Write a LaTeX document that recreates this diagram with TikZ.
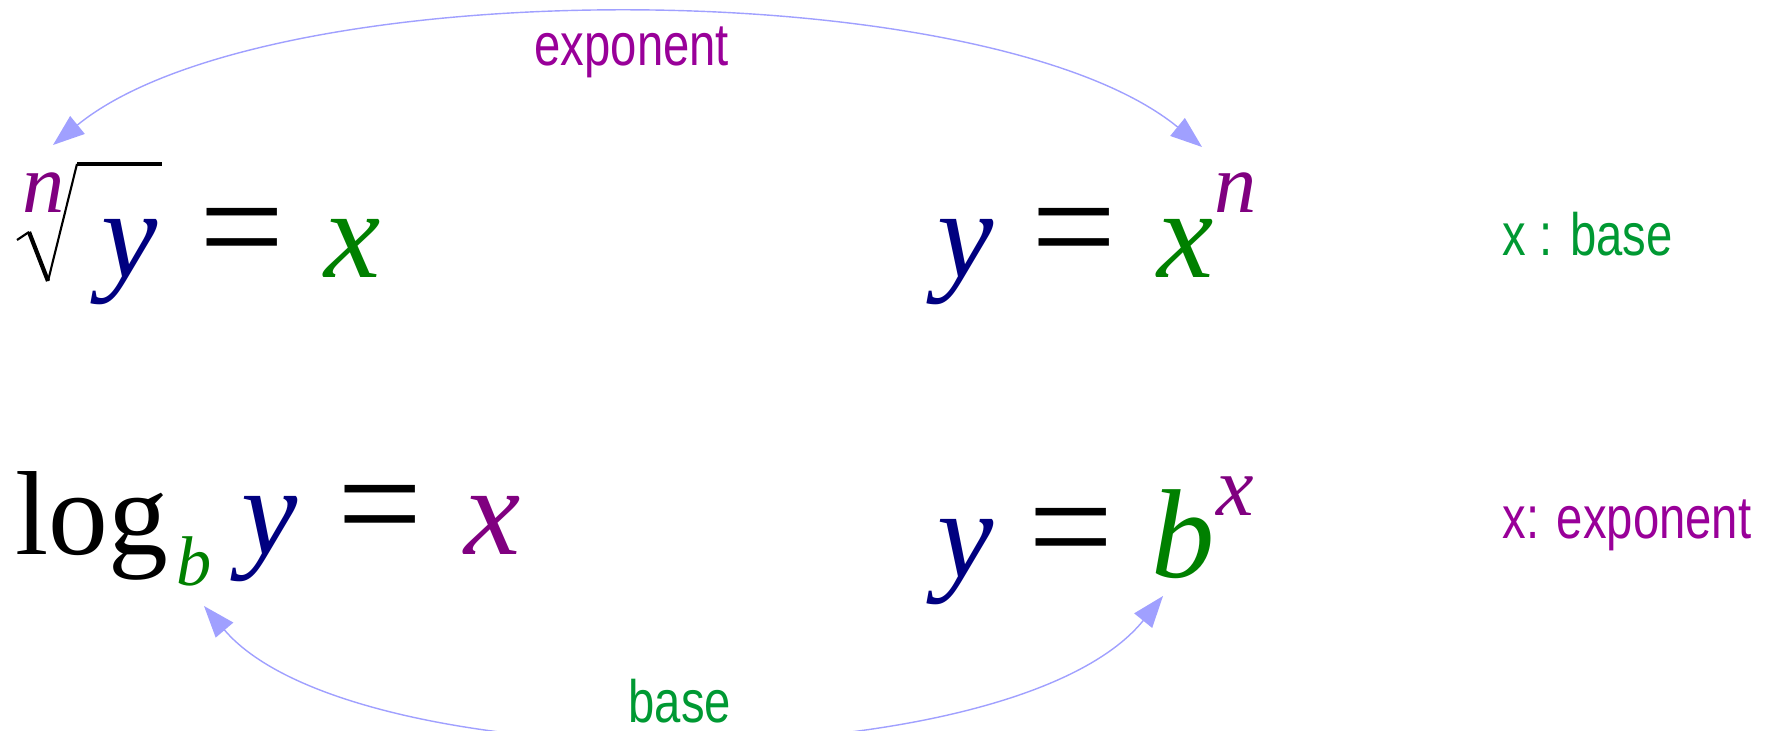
\documentclass[tikz,border=0pt]{standalone}
\usepackage{fontspec}
\setmainfont{Liberation Serif}
\newfontfamily\lblfont[FakeStretch=0.79]{Liberation Sans}
\usetikzlibrary{arrows.meta}
\definecolor{eqblue}{RGB}{0,0,128}
\definecolor{eqgreen}{RGB}{0,128,0}
\definecolor{eqpurple}{RGB}{128,0,128}
\definecolor{lblgreen}{RGB}{0,153,51}
\definecolor{lblpurple}{RGB}{153,0,153}
\definecolor{linkblue}{RGB}{160,160,255}

\begin{document}
\begin{tikzpicture}[x=0.01cm, y=-0.01cm,
	every node/.style={inner sep=0pt, anchor=base west},
	big/.style={font=\fontsize{34}{34}\selectfont},
	eqsign/.style={font=\fontsize{43}{43}\selectfont},
	bigit/.style={font=\fontsize{36}{36}\selectfont\itshape},
	supit/.style={font=\fontsize{24}{24}\selectfont\itshape},
	subit/.style={font=\fontsize{20}{20}\selectfont\itshape},
	lbl/.style={font={\fontsize{17}{17}\lblfont}},
	link/.style={linkblue, line width=0.4pt, {Triangle[length=9pt,width=6.5pt]}-{Triangle[length=9pt,width=6.5pt]}}]
	\useasboundingbox (0,0) rectangle (1774,731);
	\draw[line width=0.6pt] (17,240) -- (29,232);
	\draw[line width=1.2pt] (29,232) -- (48,281);
	\draw[line width=0.6pt] (48,281) -- (77,164);
	\draw[line width=1.2pt] (77,164) -- (162,164);
	\node[supit, eqpurple] (rootidx) at (22,213) {n};
	\node[bigit, eqblue] (rooty) at (101,278) {y};
	\node[eqsign] (rooteq) at (199,278) {=};
	\node[bigit, eqgreen] (rootx) at (324,278) {x};
	\node[bigit, eqblue] (powy) at (937,278) {y};
	\node[eqsign] (poweq) at (1031,278) {=};
	\node[bigit, eqgreen] (powx) at (1157,278) {x};
	\node[supit, eqpurple] (pown) at (1214,213) {n};
	\node[lbl, lblgreen] (baselbl) at (1502,256) {x : base};
	\node[big] (logw) at (15,554) {log};
	\node[subit, eqgreen] (logb) at (176,585) {b};
	\node[bigit, eqblue] (logy) at (241,554) {y};
	\node[eqsign] (logeq) at (337,554) {=};
	\node[bigit, eqpurple] (logx) at (464,554) {x};
	\node[bigit, eqblue] (expy) at (937,577) {y};
	\node[eqsign] (expeq) at (1028,577) {=};
	\node[bigit, eqgreen] (expb) at (1151,577) {b};
	\node[supit, eqpurple] (expx) at (1216,515) {x};
	\node[lbl, lblpurple] (explbl) at (1502,538) {x: exponent};
	\node[lbl, lblpurple] (toplbl) at (534,66) {exponent};
	\node[lbl, lblgreen] (botlbl) at (628,722) {base};
	\coordinate (topL) at (53,145);
	\coordinate (topR) at (1202,147);
	\coordinate (botL) at (204,606);
	\coordinate (botR) at (1163,596);
	\draw[link] (topL) .. controls (267,-30) and (988,-28) .. (topR);
	\draw[link] (botL) .. controls (354,782) and (1013,782) .. (botR);
\end{tikzpicture}
\end{document}
